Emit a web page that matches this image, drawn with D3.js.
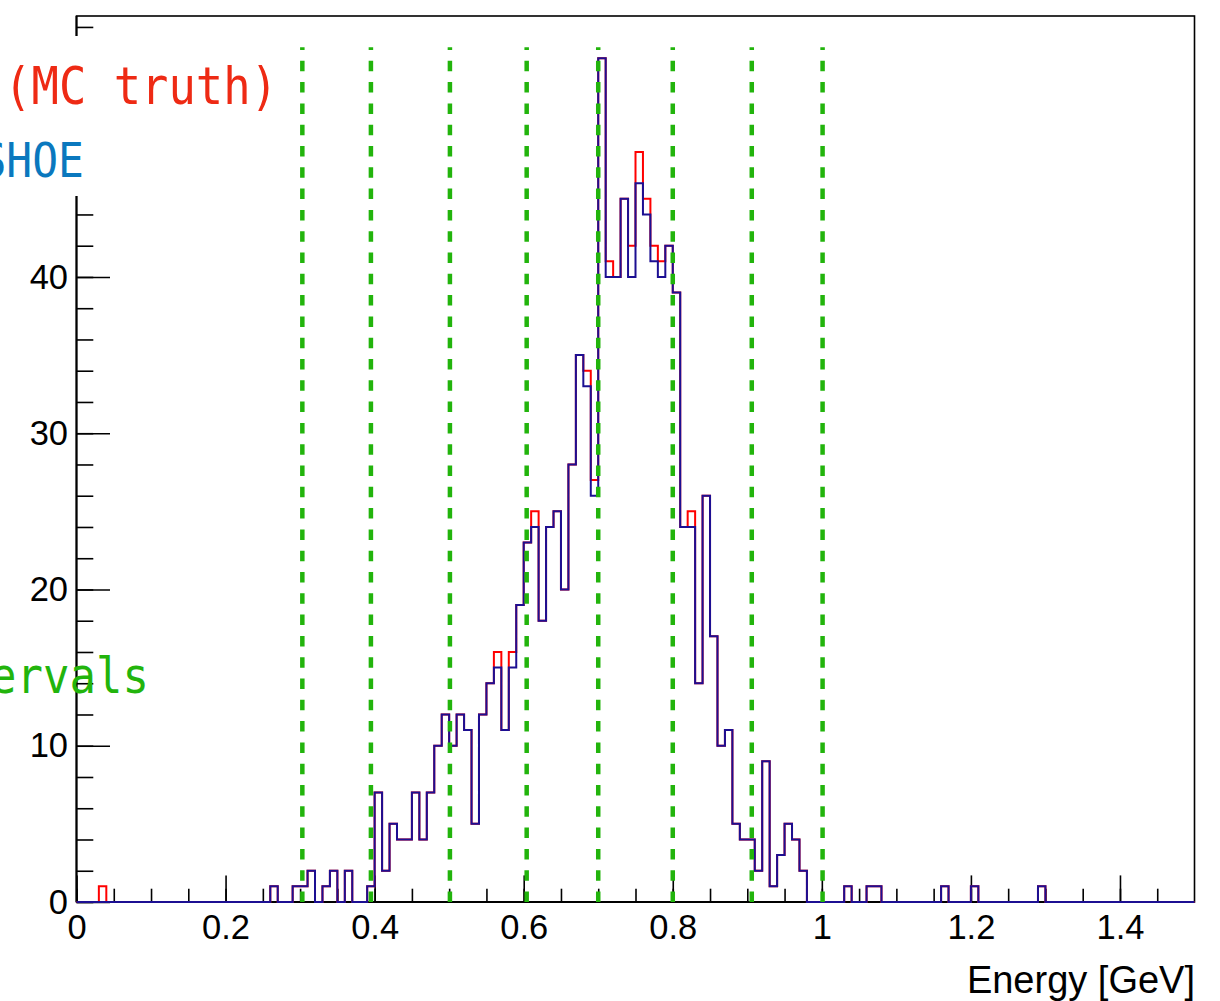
<!DOCTYPE html>
<html>
<head>
<meta charset="utf-8">
<script src="https://cdn.jsdelivr.net/npm/d3@7"></script>
<style>
  html, body { margin: 0; padding: 0; background: #ffffff; }
  svg { display: block; }
</style>
</head>
<body>
<svg id="chart" width="1220" height="1001"></svg>
<script>
// Histogram binning: 150 bins of 10 MeV from 0 to 1.5 GeV
const binStart = 0;
const binWidth = 0.01;

// Reconstructed energy (SHOE), counts per bin
const shoeCounts = [
  0, 0, 0, 0, 0, 0, 0, 0, 0, 0,
  0, 0, 0, 0, 0, 0, 0, 0, 0, 0,
  0, 0, 0, 0, 0, 0, 1, 0, 0, 1,
  1, 2, 0, 1, 2, 0, 2, 0, 0, 1,
  7, 2, 5, 4, 4, 7, 4, 7, 10, 12,
  10, 12, 11, 5, 12, 14, 15, 11, 15, 19,
  23, 24, 18, 24, 25, 20, 28, 35, 33, 26,
  54, 40, 40, 45, 40, 46, 44, 41, 40, 42,
  39, 24, 24, 14, 26, 17, 10, 11, 5, 4,
  4, 2, 9, 1, 3, 5, 4, 2, 0, 0,
  0, 0, 0, 1, 0, 0, 1, 1, 0, 0,
  0, 0, 0, 0, 0, 0, 1, 0, 0, 0,
  1, 0, 0, 0, 0, 0, 0, 0, 0, 1,
  0, 0, 0, 0, 0, 0, 0, 0, 0, 0,
  0, 0, 0, 0, 0, 0, 0, 0, 0, 0
];

// True energy (MC truth), counts per bin
const truthCounts = [
  0, 0, 0, 1, 0, 0, 0, 0, 0, 0,
  0, 0, 0, 0, 0, 0, 0, 0, 0, 0,
  0, 0, 0, 0, 0, 0, 1, 0, 0, 1,
  1, 2, 0, 1, 2, 0, 2, 0, 0, 1,
  7, 2, 5, 4, 4, 7, 4, 7, 10, 12,
  10, 12, 11, 5, 12, 14, 16, 11, 16, 19,
  23, 25, 18, 24, 25, 20, 28, 35, 34, 27,
  54, 41, 40, 45, 42, 48, 45, 42, 41, 42,
  39, 24, 25, 14, 26, 17, 10, 11, 5, 4,
  4, 2, 9, 1, 3, 5, 4, 2, 0, 0,
  0, 0, 0, 1, 0, 0, 1, 1, 0, 0,
  0, 0, 0, 0, 0, 0, 1, 0, 0, 0,
  1, 0, 0, 0, 0, 0, 0, 0, 0, 1,
  0, 0, 0, 0, 0, 0, 0, 0, 0, 0,
  0, 0, 0, 0, 0, 0, 0, 0, 0, 0
];

// Boundaries of the energy intervals (GeV)
const intervalEdges = [0.303, 0.395, 0.501, 0.604, 0.700, 0.800, 0.906, 1.001];

// Axis ticks and labels
const xMajorTicks = [0, 0.2, 0.4, 0.6, 0.8, 1.0, 1.2, 1.4];
const xTickLabels = ["0", "0.2", "0.4", "0.6", "0.8", "1", "1.2", "1.4"];
const yMajorTicks = [0, 10, 20, 30, 40, 50];
const yTickLabels = ["0", "10", "20", "30", "40", ""];
const xTitle = "Energy [GeV]";

// Legend entries
const legendLabels = ["True energy (MC truth)", "Reconstructed by SHOE", "Energy intervals"];
const legendColors = ["#ee2a14", "#0a78be", "#22b40c"];

// ---------------------------------------------------------------
const frame = { left: 76.5, right: 1194.5, top: 16, bottom: 902 };
const nBins = shoeCounts.length;
const xMax = binStart + nBins * binWidth;
const yMax = d3.max([d3.max(shoeCounts), d3.max(truthCounts)]) * 1.05;

const x = d3.scaleLinear().domain([binStart, xMax]).range([frame.left, frame.right]);
const y = d3.scaleLinear().domain([0, yMax]).range([frame.bottom, frame.top]);

const svg = d3.select("#chart");
const labelFont = "'Liberation Sans', Arial, Helvetica, sans-serif";
const legendFont = "'DejaVu Sans Mono', monospace";

// Frame box
svg.append("rect")
  .attr("x", frame.left).attr("y", frame.top)
  .attr("width", frame.right - frame.left).attr("height", frame.bottom - frame.top)
  .attr("fill", "none").attr("stroke", "#000").attr("stroke-width", 1.6);

// X axis: minor ticks every 0.05, major ticks every 0.2 (ticks point inside the frame)
const xMinor = d3.axisBottom(x)
  .tickValues(d3.range(0, 30).map(i => i * 0.05))
  .tickSize(-13.3).tickFormat("");
const xMajor = d3.axisBottom(x)
  .tickValues(xMajorTicks)
  .tickSize(-26.6).tickPadding(12.5)
  .tickFormat((d, i) => xTickLabels[i]);

svg.append("g").attr("transform", `translate(0,${frame.bottom})`).call(xMinor);
svg.append("g").attr("class", "xmajor").attr("transform", `translate(0,${frame.bottom})`).call(xMajor);

// Y axis: minor ticks every 2, major every 10
const yMinor = d3.axisLeft(y)
  .tickValues(d3.range(0, 29).map(i => i * 2))
  .tickSize(-16.8).tickFormat("");
const yMajor = d3.axisLeft(y)
  .tickValues(yMajorTicks)
  .tickSize(-33.5).tickPadding(8.5)
  .tickFormat((d, i) => yTickLabels[i]);

svg.append("g").attr("transform", `translate(${frame.left},0)`).call(yMinor);
svg.append("g").attr("class", "ymajor").attr("transform", `translate(${frame.left},0)`).call(yMajor);

svg.selectAll(".domain").remove();
svg.selectAll(".ymajor text").filter(function () { return this.textContent === ""; }).remove();
svg.selectAll(".tick line").attr("stroke", "#000").attr("stroke-width", 1.6);
svg.selectAll(".xmajor text, .ymajor text")
  .attr("fill", "#000").style("font-family", labelFont).style("font-size", "34.5px");

// Axis lines
svg.append("line")
  .attr("x1", frame.left).attr("x2", frame.right)
  .attr("y1", frame.bottom).attr("y2", frame.bottom)
  .attr("stroke", "#000").attr("stroke-width", 2);
svg.append("line")
  .attr("x1", frame.left).attr("x2", frame.left)
  .attr("y1", frame.top).attr("y2", frame.bottom)
  .attr("stroke", "#000").attr("stroke-width", 2);

// X axis title
svg.append("text")
  .attr("x", 1195).attr("y", 993)
  .attr("text-anchor", "end")
  .style("font-family", labelFont).style("font-size", "38px")
  .attr("fill", "#000")
  .text(xTitle);

// Histogram outlines (step shape, closed to the baseline at both ends)
function stepPoints(counts) {
  const pts = [[binStart, 0]];
  counts.forEach((c, i) => {
    const lo = binStart + i * binWidth;
    pts.push([lo, c], [lo + binWidth, c]);
  });
  pts.push([xMax, 0]);
  return pts;
}
const stepLine = d3.line().x(d => x(d[0])).y(d => y(d[1]));

svg.append("path")
  .attr("d", stepLine(stepPoints(truthCounts)))
  .attr("fill", "none").attr("stroke", "#ff0000").attr("stroke-width", 2);

svg.append("path")
  .attr("d", stepLine(stepPoints(shoeCounts)))
  .attr("fill", "none").attr("stroke", "#1c0f92").attr("stroke-width", 2);

// Interval boundaries
svg.append("g").selectAll("line")
  .data(intervalEdges)
  .join("line")
  .attr("x1", d => x(d)).attr("x2", d => x(d))
  .attr("y1", y(0)).attr("y2", y(54.7))
  .attr("stroke", legendColors[2])
  .attr("stroke-width", 4.5)
  .attr("stroke-dasharray", "10.5 10.8");

// Legend box (white fill) for the two histograms
svg.append("rect")
  .attr("x", -20).attr("y", 36)
  .attr("width", 300).attr("height", 160)
  .attr("fill", "#fff");

const legendPos = [
  { x: 278, y: 104, size: 45.5 },
  { x: 84, y: 177, size: 43 },
  { x: 149, y: 693, size: 44 }
];
svg.append("g").selectAll("text")
  .data(legendLabels)
  .join("text")
  .attr("transform", (d, i) => `translate(${legendPos[i].x},${legendPos[i].y}) scale(1,1.12)`)
  .attr("text-anchor", "end")
  .attr("fill", (d, i) => legendColors[i])
  .style("font-family", legendFont)
  .style("font-size", (d, i) => `${legendPos[i].size}px`)
  .text(d => d);
</script>
</body>
</html>
